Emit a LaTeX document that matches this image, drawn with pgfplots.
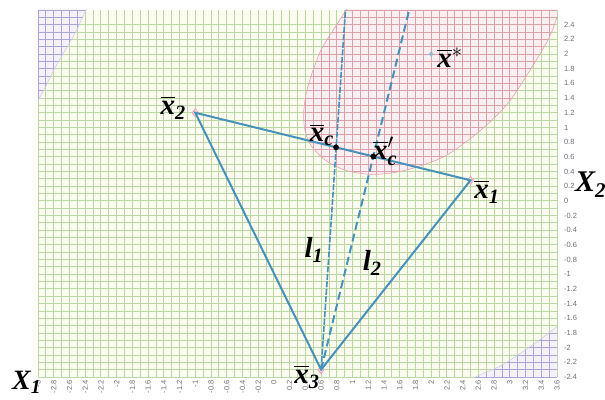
\documentclass[border=0pt]{standalone}
\usepackage{fontspec}
\usepackage{amsmath}
\usepackage{pgfplots}
\pgfplotsset{compat=1.18}
\setmainfont{Liberation Serif}
\newfontfamily\tickfont{Liberation Sans}
\definecolor{bggreen}{HTML}{FBFCEF}
\definecolor{gridgreen}{HTML}{BBD7A6}
\definecolor{bgpink}{HTML}{FBEFF1}
\definecolor{gridpink}{HTML}{D9A2A8}
\definecolor{edgepink}{HTML}{E6A4AE}
\definecolor{bgpurple}{HTML}{F5F0FA}
\definecolor{gridpurple}{HTML}{A9A6D6}
\definecolor{tri}{RGB}{72,145,185}
\definecolor{tickgray}{HTML}{6E6E78}
\definecolor{pinkmark}{HTML}{EDA3B3}
\definecolor{pinkfill}{HTML}{F8DCE2}
\definecolor{starblue}{HTML}{8DBAD6}
\newcommand\bi[1]{\text{\bfseries\itshape #1}}
\newcommand{\regiongrid}[1]{%
  \foreach \i in {0,...,66}{\pgfmathsetmacro\xx{-3+0.1*\i}\path[path picture={}, draw=#1, fill=none, line width=0.85pt] (axis cs:\xx,-2.4) -- (axis cs:\xx,2.6);}%
  \foreach \j in {0,...,50}{\pgfmathsetmacro\yy{-2.4+0.1*\j}\path[path picture={}, draw=#1, fill=none, line width=0.85pt] (axis cs:-3,\yy) -- (axis cs:3.6,\yy);}%
}
\begin{document}
\begin{tikzpicture}
\begin{axis}[
  anchor=south west, at={(0,0)},
  width=519pt, height=367pt, scale only axis,
  xmin=-3, xmax=3.6, ymin=-2.4, ymax=2.6,
  xtick={-3,-2.8,-2.6,-2.4,-2.2,-2,-1.8,-1.6,-1.4,-1.2,-1,-0.8,-0.6,-0.4,-0.2,0,0.2,0.4,0.6,0.8,1,1.2,1.4,1.6,1.8,2,2.2,2.4,2.6,2.8,3,3.2,3.4,3.6},
  ytick={-2.4,-2.2,-2,-1.8,-1.6,-1.4,-1.2,-1,-0.8,-0.6,-0.4,-0.2,0,0.2,0.4,0.6,0.8,1,1.2,1.4,1.6,1.8,2,2.2,2.4},
  minor x tick num=1, minor y tick num=1,
  grid=both,
  major grid style={draw=gridgreen, line width=0.85pt},
  minor grid style={draw=gridgreen, line width=0.85pt},
  major tick length=0pt, minor tick length=0pt,
  axis line style={draw=none},
  axis background/.style={fill=bggreen},
  yticklabel pos=right,
  /pgf/number format/assume math mode=true,
  /pgf/number format/fixed, /pgf/number format/precision=1,
  xticklabel style={rotate=90, anchor=east, font=\tickfont\fontsize{7.5}{8}\selectfont, text=tickgray},
  yticklabel style={anchor=west, font=\tickfont\fontsize{7.5}{8}\selectfont, text=tickgray, xshift=3.5pt},
  clip mode=individual,
]
% pink ellipse region
\addplot[draw=edgepink, line width=0.6pt, fill=bgpink, smooth, tension=0.5,
  path picture={\regiongrid{gridpink}}] coordinates {
  (0.98,2.7) (0.92,2.6) (0.75,2.32) (0.597,2.05) (0.495,1.77) (0.418,1.50) (0.38,1.23)
  (0.39,0.986) (0.47,0.755) (0.66,0.55) (0.916,0.415) (1.235,0.36) (1.555,0.39)
  (1.875,0.48) (2.194,0.62) (2.55,0.89) (2.83,1.16) (3.02,1.39) (3.28,1.82)
  (3.50,2.22) (3.62,2.56) (3.67,2.7)} -- cycle;
% purple corner top-left
\addplot[draw=gridpurple!60, line width=0.5pt, fill=bgpurple, smooth, tension=0.5,
  path picture={\regiongrid{gridpurple}}] coordinates {
  (-2.33,2.7) (-2.40,2.58) (-2.53,2.28) (-2.78,1.82) (-2.91,1.54) (-3,1.37) (-3.1,1.2)
  (-3.2,1.2) (-3.2,2.7)} -- cycle;
% purple corner bottom-right
\addplot[draw=gridpurple!60, line width=0.5pt, fill=bgpurple, smooth, tension=0.5,
  path picture={\regiongrid{gridpurple}}] coordinates {
  (2.45,-2.55) (2.565,-2.4) (2.897,-2.24) (3.32,-1.94) (3.625,-1.69) (3.72,-1.6)
  (3.8,-1.6) (3.8,-2.6)} -- cycle;
% vertex markers
\addplot[only marks, mark=diamond*, mark size=4pt, mark options={fill=pinkfill, draw=pinkmark, line width=0.8pt}]
  coordinates {(2.5,0.28) (-1,1.2) (0.6,-2.3)};
\addplot[only marks, mark=diamond*, mark size=2.5pt, color=starblue] coordinates {(2,2)};
% triangle
\addplot[tri, line width=2pt] coordinates {(-1,1.2) (2.5,0.28) (0.6,-2.3)} -- cycle;
% l1 and l2
\addplot[tri, line width=1.6pt, dash pattern=on 6pt off 1.5pt] coordinates {(0.6,-2.3) (0.91,2.6)};
\addplot[tri, line width=2pt, dash pattern=on 8pt off 4pt] coordinates {(0.6,-2.3) (1.72,2.6)};
% centroid points
\addplot[only marks, mark=*, mark size=2.6pt, black] coordinates {(0.79,0.73) (1.264,0.605)};
% labels
\begin{scope}[font=\fontsize{29}{30}\selectfont]
\node at (axis cs:2.71,0.12) {$\overline{\bi{x}}_{\bi{1}}$};
\node at (axis cs:-1.28,1.27) {$\overline{\bi{x}}_{\bi{2}}$};
\node at (axis cs:0.42,-2.4) {$\overline{\bi{x}}_{\bi{3}}$};
\node at (axis cs:0.61,0.90) {$\overline{\bi{x}}_{\bi{c}}$};
\node at (axis cs:1.415,0.673) {$\overline{\bi{x}}'_{\bi{c}}$};
\node at (axis cs:2.24,1.95) {$\overline{\bi{x}}^{*}$};
\node at (axis cs:0.51,-0.67) {$\bi{l}_{\bi{1}}$};
\node at (axis cs:1.25,-0.85) {$\bi{l}_{\bi{2}}$};
\end{scope}
\node[anchor=north west, inner sep=0pt, xshift=-26pt, yshift=6pt, font=\fontsize{28}{30}\selectfont] at (rel axis cs:0,0) {$\bi{X}_{\bi{1}}$};
\node[anchor=west, inner sep=0pt, xshift=18pt, font=\fontsize{30}{30}\selectfont] at (axis cs:3.6,0.22) {$\bi{X}_{\bi{2}}$};
\end{axis}
\pgfresetboundingbox
\path[use as bounding box] (-38pt,-22pt) rectangle (567pt,377pt);
\end{tikzpicture}
\end{document}
